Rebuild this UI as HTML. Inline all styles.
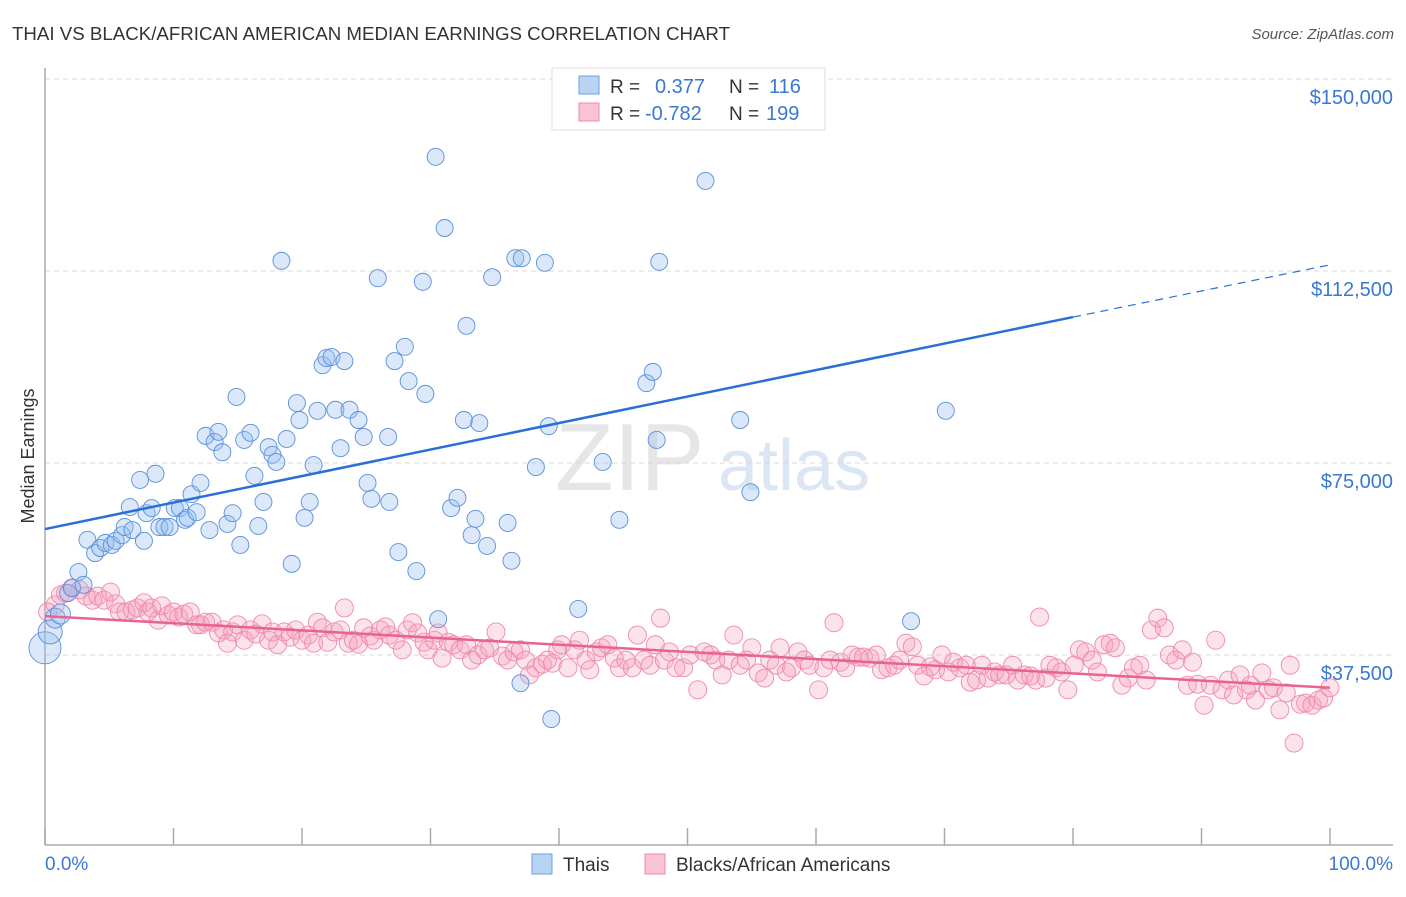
<!DOCTYPE html>
<html><head><meta charset="utf-8"><style>
body{margin:0;background:#fff;font-family:"Liberation Sans",sans-serif}
svg text{font-family:"Liberation Sans",sans-serif}
</style></head><body>
<svg id="chart" width="1406" height="892">
<text x="12" y="40" font-size="18.5" fill="#333" textLength="718" lengthAdjust="spacingAndGlyphs">THAI VS BLACK/AFRICAN AMERICAN MEDIAN EARNINGS CORRELATION CHART</text>
<text x="1394" y="39" font-size="15" fill="#555" font-style="italic" text-anchor="end">Source: ZipAtlas.com</text>
<text transform="translate(34,456) rotate(-90)" font-size="18" fill="#333" text-anchor="middle">Median Earnings</text>
<text x="555" y="490" font-size="96" fill="#e6e6e6" font-family="Liberation Serif">ZIP</text>
<text x="718" y="490" font-size="72" fill="#dbe6f4">atlas</text>
<g id="grid"></g><g id="axes"></g><g id="pinkpts"></g><g id="bluepts"></g><g id="trends"></g>
<g>
<rect x="552" y="68" width="273" height="62" fill="#fff" stroke="#ddd"/>
<rect x="579" y="76" width="20" height="18" fill="#b9d3f3" stroke="#6a9fe0"/>
<rect x="579" y="103" width="20" height="18" fill="#f8c4d4" stroke="#f08aab"/>
<text x="610" y="93" font-size="19" fill="#333">R =</text><text x="655" y="93" font-size="20" fill="#3a78d4">0.377</text>
<text x="729" y="93" font-size="19" fill="#333">N =</text><text x="769" y="93" font-size="20" fill="#3a78d4">116</text>
<text x="610" y="120" font-size="19" fill="#333">R =</text><text x="645" y="120" font-size="20" fill="#3a78d4">-0.782</text>
<text x="729" y="120" font-size="19" fill="#333">N =</text><text x="766" y="120" font-size="20" fill="#3a78d4">199</text>
</g>
<g>
<rect x="532" y="854" width="20" height="20" fill="#b9d3f3" stroke="#6a9fe0"/>
<text x="563" y="871" font-size="19" fill="#333">Thais</text>
<rect x="645" y="854" width="20" height="20" fill="#f8c4d4" stroke="#f08aab"/>
<text x="676" y="871" font-size="19" fill="#333">Blacks/African Americans</text>
</g>
</svg>
<script>
const yTicks=[37500,75000,112500,150000];
const yTickLabels=["$37,500","$75,000","$112,500","$150,000"];
const xTickLabels=["0.0%","100.0%"];
const blueX=[0,0.4,0.8,1.2,1.8,2.1,2.6,3.0,3.3,3.9,4.3,4.7,5.2,5.5,6.0,6.2,6.6,6.8,7.4,7.7,7.9,8.3,8.6,8.9,9.3,9.7,10.1,10.5,10.9,11.1,11.4,11.8,12.1,12.5,12.8,13.2,13.5,13.8,14.2,14.6,14.9,15.2,15.5,16.0,16.3,16.6,17.0,17.4,17.7,18.0,18.4,18.8,19.2,19.6,19.8,20.2,20.6,20.9,21.2,21.6,21.9,22.3,22.6,23.0,23.3,23.7,24.4,24.8,25.1,25.4,25.9,26.7,26.8,27.2,27.5,28.0,28.3,28.9,29.4,29.6,30.4,30.6,31.1,31.6,32.1,32.6,32.8,33.2,33.5,33.8,34.4,34.8,36.0,36.3,36.6,37.0,37.1,38.2,38.9,39.2,39.4,41.5,43.4,44.7,46.8,47.3,47.6,47.8,51.4,54.1,54.9,67.4,70.1];
const blueY=[38.9,42.0,44.7,45.5,49.6,50.6,53.7,51.2,60.0,57.4,58.4,59.4,59.0,59.8,60.9,62.5,66.4,61.9,71.7,59.8,65.2,66.2,72.9,62.5,62.5,62.5,66.2,66.2,63.9,64.3,68.9,65.4,71.1,80.3,61.9,79.1,81.1,77.1,63.1,65.2,87.9,59.0,79.5,80.9,72.5,62.7,67.4,78.1,76.6,75.2,114.5,79.7,55.3,86.7,83.4,64.3,67.4,74.6,85.2,94.1,95.5,95.7,85.4,77.9,94.9,85.4,83.4,80.1,71.1,68.0,111.1,80.1,67.4,94.9,57.6,97.7,91.0,53.9,110.4,88.5,134.8,44.5,120.9,66.2,68.2,83.4,101.8,60.9,64.1,82.8,58.8,111.3,63.3,55.9,115.0,32.0,115.0,74.2,114.1,82.2,25.0,46.5,75.2,63.9,90.6,92.8,79.5,114.3,130.1,83.4,69.3,44.1,85.2];
const pinkX=[0.2,0.8,1.2,1.6,2.1,2.7,3.2,3.7,4.1,4.6,5.1,5.5,5.8,6.3,6.8,7.2,7.7,8.0,8.3,8.8,9.1,9.6,10.0,10.4,10.8,11.3,11.8,12.1,12.5,13.0,13.5,13.9,14.2,14.6,15.0,15.5,16.0,16.4,16.9,17.4,17.7,18.1,18.6,19.1,19.5,20.0,20.5,20.9,21.2,21.6,22.0,22.5,23.0,23.3,23.6,24.0,24.4,24.8,25.3,25.6,26.1,26.5,26.8,27.3,27.8,28.2,28.6,29.0,29.5,29.8,30.3,30.6,30.9,31.4,31.8,32.3,32.8,33.2,33.7,34.2,34.6,35.1,35.6,36.0,36.5,37.0,37.4,37.7,38.2,38.7,39.1,39.5,39.9,40.2,40.7,41.2,41.6,42.1,42.4,42.9,43.3,43.8,44.3,44.7,45.2,45.7,46.1,46.6,47.1,47.5,47.9,48.2,48.6,49.1,49.7,50.2,50.8,51.3,51.8,52.2,52.7,53.2,53.6,54.1,54.6,55.0,55.5,56.0,56.4,56.9,57.2,57.7,58.1,58.6,59.1,59.5,60.2,60.6,61.1,61.4,61.9,62.3,62.8,63.3,63.7,64.2,64.7,65.1,65.6,66.1,66.5,67.0,67.5,67.9,68.4,68.9,69.3,69.8,70.3,70.7,71.2,71.7,72.0,72.5,72.9,73.4,73.9,74.3,74.8,75.3,75.7,76.2,76.7,77.1,77.4,77.9,78.2,78.7,79.1,79.6,80.1,80.5,81.0,81.5,81.9,82.4,82.9,83.3,83.8,84.3,84.7,85.2,85.7,86.1,86.6,87.1,87.5,88.0,88.5,88.9,89.3,89.7,90.2,90.7,91.1,91.6,92.1,92.5,93.0,93.5,93.8,94.2,94.7,95.2,95.6,96.1,96.6,96.9,97.2,97.7,98.1,98.6,99.1,99.5,100.0];
const pinkY=[45.9,47.3,49.2,49.6,50.6,50.2,49.0,48.2,49.0,48.2,49.8,47.5,45.9,45.9,46.3,46.7,47.7,45.9,46.7,44.3,47.1,45.3,45.9,44.9,45.5,45.9,43.4,43.4,43.9,43.9,41.8,42.4,39.8,42.0,43.4,40.4,42.4,41.6,43.6,40.4,42.0,39.5,42.0,41.0,42.4,40.4,41.4,39.8,43.9,42.8,40.0,42.0,42.4,46.7,39.8,40.4,39.6,42.8,41.2,40.4,42.4,43.0,41.4,40.4,38.5,42.4,43.8,41.8,40.0,38.5,40.4,41.8,36.9,40.0,39.5,38.5,39.5,36.5,37.5,38.5,38.9,42.0,37.3,36.5,38.1,38.5,36.5,33.6,35.0,35.7,36.5,35.9,38.5,39.5,35.0,38.5,40.4,36.5,34.6,38.1,38.9,39.5,36.9,35.0,36.5,35.0,41.4,36.5,35.5,39.5,44.7,36.5,38.1,35.0,35.0,37.5,30.7,38.1,37.5,36.5,33.6,36.5,41.4,35.5,36.5,38.9,34.0,33.0,36.5,35.5,38.9,34.2,35.0,38.1,36.5,35.5,30.7,35.0,36.5,43.8,36.1,35.0,37.5,37.1,37.1,36.9,37.5,34.6,35.0,35.5,36.5,39.8,39.1,35.5,33.4,35.2,34.6,37.5,34.2,36.1,35.0,35.5,32.2,32.6,35.5,33.0,34.2,33.6,33.6,35.5,32.6,33.6,33.4,32.6,44.9,33.0,35.5,35.0,34.2,30.7,35.5,38.5,38.1,36.5,34.2,39.5,39.8,38.9,31.6,33.0,35.0,35.5,32.6,42.4,44.7,42.8,37.5,36.5,38.5,31.6,36.1,31.8,27.7,31.6,40.4,30.7,32.6,29.7,33.6,30.7,31.6,28.7,34.0,30.7,31.1,26.8,30.1,35.5,20.3,27.9,28.1,27.7,28.7,29.1,31.1];
const blueTrendX=[0,80,100];
const blueTrendY=[62.1,103.5,113.7];
const pinkTrendX=[0,100];
const pinkTrendY=[45.1,31.1];

const NS="http://www.w3.org/2000/svg";
const X0=45,X1=1330,YB=847,PX=5.12;
function xs(p){return X0+(X1-X0)*p/100;}
function ys(k){return YB-k*PX;}
function mk(tag,attrs,parent){const e=document.createElementNS(NS,tag);for(const k in attrs)e.setAttribute(k,attrs[k]);parent.appendChild(e);return e;}
const grid=document.getElementById('grid'),axes=document.getElementById('axes');
yTicks.forEach((v,i)=>{
  const y=ys(v/1000);
  const l=mk('line',{x1:45,x2:1393,y1:y,y2:y,stroke:'#d8d8d8','stroke-dasharray':'5,4'},grid);
  
  
  const t=mk('text',{x:1393,y:y+25,'font-size':20,fill:'#3a78d4','text-anchor':'end'},axes);
  t.textContent=yTickLabels[i];
  
  
});
const ax=mk('line',{x1:45,x2:45,y1:68,y2:845,stroke:'#aaa','stroke-width':1.5},axes);


const bx=mk('line',{x1:45,x2:1393,y1:845,y2:845,stroke:'#aaa','stroke-width':1.5},axes);


for(let i=0;i<=10;i++){
  const x=xs(i*10);
  const tk=mk('line',{x1:x,x2:x,y1:828,y2:845,stroke:'#aaa','stroke-width':1.5},axes);
  
  
}
const tl0=mk('text',{x:45,y:870,'font-size':19,fill:'#3a78d4'},axes);tl0.textContent=xTickLabels[0];


const tl1=mk('text',{x:1393,y:870,'font-size':19,fill:'#3a78d4','text-anchor':'end'},axes);tl1.textContent=xTickLabels[1];



const pg=document.getElementById('pinkpts');
pinkX.forEach((p,i)=>{
  const c=mk('circle',{cx:xs(p),cy:ys(pinkY[i]),r:9,fill:'rgba(244,160,190,0.3)',stroke:'#f08aab','stroke-width':0.9},pg);
  
  
});
const bg=document.getElementById('bluepts');
blueX.forEach((p,i)=>{
  const r=i===0?16:(i===1?12:(i<4?10:8.5));
  const c=mk('circle',{cx:xs(p),cy:ys(blueY[i]),r:r,fill:'rgba(150,190,240,0.35)',stroke:'#5a90dc','stroke-width':0.9},bg);
  
  
});
const tg=document.getElementById('trends');
const b1=mk('line',{x1:xs(blueTrendX[0]),y1:ys(blueTrendY[0]),x2:xs(blueTrendX[1]),y2:ys(blueTrendY[1]),stroke:'#2a6fd6','stroke-width':2.5},tg);


const b2=mk('line',{x1:xs(blueTrendX[1]),y1:ys(blueTrendY[1]),x2:xs(blueTrendX[2]),y2:ys(blueTrendY[2]),stroke:'#2a6fd6','stroke-width':1.2,'stroke-dasharray':'8,6'},tg);


const p1=mk('line',{x1:xs(pinkTrendX[0]),y1:ys(pinkTrendY[0]),x2:xs(pinkTrendX[1]),y2:ys(pinkTrendY[1]),stroke:'#e8638e','stroke-width':2.5},tg);


</script>
</body></html>
